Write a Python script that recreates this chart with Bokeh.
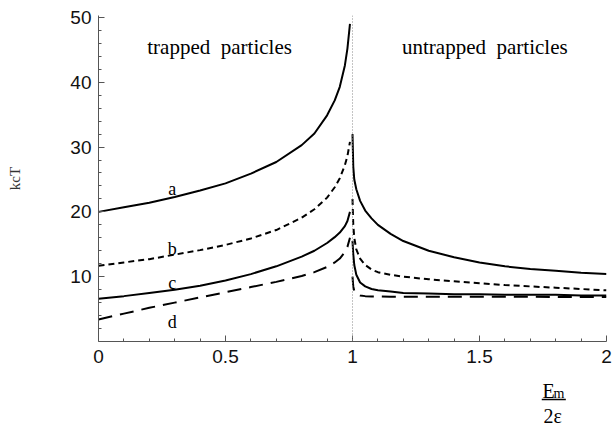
from bokeh.plotting import figure
from bokeh.models import FixedTicker, Span, Label
from bokeh.layouts import column
from bokeh.embed import file_html
from bokeh.resources import INLINE

# ---- data ----
x_left = [0, 0.1, 0.2, 0.3, 0.4, 0.5, 0.6, 0.7, 0.8, 0.85, 0.9, 0.93, 0.95, 0.97, 0.98, 0.99]
a_left = [20.0, 20.7, 21.4, 22.3, 23.3, 24.4, 25.9, 27.7, 30.3, 32.1, 34.9, 37.2, 39.3, 42.6, 45.2, 49.0]
b_left = [11.7, 12.2, 12.7, 13.4, 14.1, 14.9, 15.9, 17.2, 19.1, 20.4, 22.2, 23.8, 25.2, 27.2, 28.6, 30.8]
c_left = [6.6, 7.0, 7.5, 8.0, 8.6, 9.4, 10.4, 11.6, 13.1, 14.0, 15.2, 16.1, 16.8, 17.8, 18.6, 20.0]
d_left = [3.4, 4.3, 5.2, 6.0, 6.8, 7.6, 8.4, 9.2, 10.1, 10.7, 11.5, 12.2, 12.8, 13.8, 14.6, 16.0]

x_right = [1.0, 1.003, 1.007, 1.015, 1.03, 1.05, 1.075, 1.1, 1.15, 1.2, 1.3, 1.4, 1.5, 1.6, 1.7, 1.8, 1.9, 2.0]
a_right = [32.0, 27.0, 25.0, 23.5, 21.7, 20.2, 19.0, 18.0, 16.6, 15.5, 14.0, 13.0, 12.2, 11.6, 11.2, 10.9, 10.6, 10.4]
b_right = [22.0, 18.0, 16.0, 14.2, 12.8, 11.8, 11.1, 10.7, 10.3, 10.0, 9.6, 9.3, 9.0, 8.7, 8.5, 8.3, 8.1, 7.9]
c_right = [15.5, 13.5, 11.8, 10.3, 9.1, 8.5, 8.1, 7.9, 7.7, 7.5, 7.4, 7.3, 7.3, 7.2, 7.2, 7.2, 7.1, 7.1]
d_right = [10.0, 8.5, 7.8, 7.3, 7.1, 7.0, 6.95, 6.95, 6.9, 6.9, 6.9, 6.9, 6.9, 6.9, 6.9, 6.88, 6.86, 6.85]

x_ticks = [0, 0.5, 1, 1.5, 2]
x_minor = [0.1, 0.2, 0.3, 0.4, 0.6, 0.7, 0.8, 0.9, 1.1, 1.2, 1.3, 1.4, 1.6, 1.7, 1.8, 1.9]
y_ticks = [10, 20, 30, 40, 50]
y_minor = [2, 4, 6, 8, 12, 14, 16, 18, 22, 24, 26, 28, 32, 34, 36, 38, 42, 44, 46, 48]

curve_names = ["a", "b", "c", "d"]
curve_label_x = [0.29, 0.29, 0.29, 0.29]
curve_label_y = [23.6, 14.2, 9.0, 3.0]

region_labels = ["trapped\u2002particles", "untrapped\u2002particles"]
region_label_x = [0.192, 1.195]
region_label_y = [45.5, 45.5]

x_title_num = "E"
x_title_sub = "m"
x_title_den = "2ε"
y_title = "kcT"

SERIF = "Liberation Serif"
SANS = "Liberation Sans"
AX = "#555555"

p = figure(width=612, height=371, x_range=(0, 2.0), y_range=(0, 50.3),
           output_backend="svg", toolbar_location=None, title_location=None,
           min_border_left=98, min_border_right=6, min_border_top=15, min_border_bottom=30)
p.outline_line_color = None
p.grid.visible = False
p.background_fill_color = "white"
p.border_fill_color = "white"

for ax, tk, mn in ((p.xaxis[0], x_ticks, x_minor), (p.yaxis[0], y_ticks, y_minor)):
    ax.ticker = FixedTicker(ticks=tk, minor_ticks=mn)
    ax.axis_line_color = AX
    ax.axis_line_width = 1
    ax.major_tick_line_color = AX
    ax.minor_tick_line_color = AX
    ax.major_tick_in = 6
    ax.major_tick_out = 0
    ax.minor_tick_in = 3
    ax.minor_tick_out = 0
    ax.major_label_text_font = SANS
    ax.major_label_text_font_size = "19px"
    ax.major_label_text_color = "#111111"
    ax.major_label_standoff = 7
p.xaxis.major_label_standoff = 8

p.yaxis.axis_label = y_title
p.yaxis.axis_label_text_font = SERIF
p.yaxis.axis_label_text_font_style = "normal"
p.yaxis.axis_label_text_font_size = "15px"
p.yaxis.axis_label_text_color = "#333333"
p.yaxis.axis_label_standoff = 44

# vertical separator at x = 1
p.add_layout(Span(location=1, dimension="height", line_color="#888888",
                  line_width=1, line_dash="1 2"))

LW = 2.0
p.line(x_left, a_left, line_color="black", line_width=LW)
p.line(x_right, a_right, line_color="black", line_width=LW)
p.line(x_left, b_left, line_color="black", line_width=LW, line_dash="6 4")
p.line(x_right, b_right, line_color="black", line_width=LW, line_dash="6 4")
p.line(x_left, c_left, line_color="black", line_width=LW)
p.line(x_right, c_right, line_color="black", line_width=LW)
p.line(x_left, d_left, line_color="black", line_width=LW, line_dash="14 8")
p.line(x_right, d_right, line_color="black", line_width=LW, line_dash="14 8")

for name, lx, ly in zip(curve_names, curve_label_x, curve_label_y):
    p.add_layout(Label(x=lx, y=ly, text=name, text_font=SERIF, text_font_size="18px",
                       text_align="center", text_baseline="alphabetic", text_color="black"))

for txt, lx, ly in zip(region_labels, region_label_x, region_label_y):
    p.add_layout(Label(x=lx, y=ly, text=txt, text_font=SERIF, text_font_size="21px",
                       text_align="left", text_baseline="alphabetic", text_color="black"))

# second strip holding the x-axis title as a fraction  E_m / 2ε  (pixel coordinates)
q = figure(width=612, height=54, x_range=(0, 612), y_range=(0, 54),
           output_backend="svg", toolbar_location=None, title_location=None,
           x_axis_type=None, y_axis_type=None, min_border=0)
q.outline_line_color = None
q.grid.visible = False
q.add_layout(Label(x=535, y=35, text=x_title_num, text_font=SERIF, text_font_size="20px",
                   text_align="left", text_baseline="alphabetic", text_color="black"))
q.add_layout(Label(x=548, y=32, text=x_title_sub, text_font=SERIF, text_font_size="14px",
                   text_align="left", text_baseline="alphabetic", text_color="black"))
q.segment(x0=[534], y0=[26], x1=[563], y1=[26], line_color="black", line_width=1.3)
q.add_layout(Label(x=536, y=10, text=x_title_den, text_font=SERIF, text_font_size="20px",
                   text_align="left", text_baseline="alphabetic", text_color="black"))

layout = column(p, q, spacing=0)
open("out.html", "w").write(file_html(layout, INLINE))
